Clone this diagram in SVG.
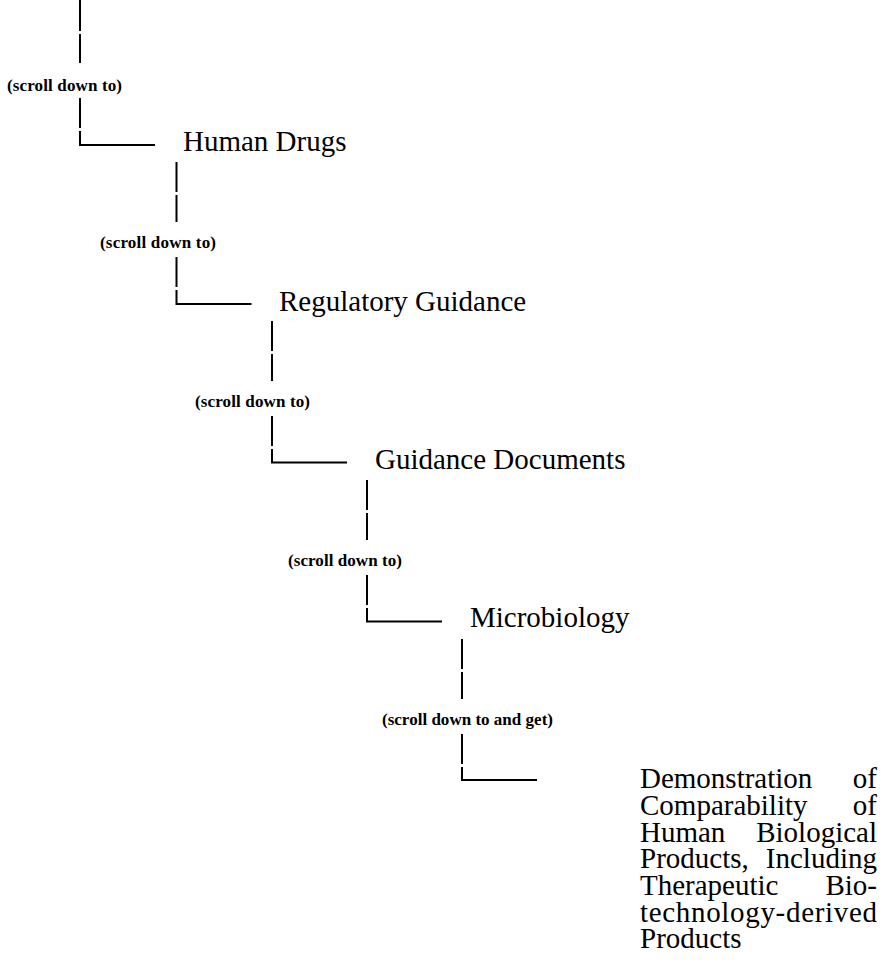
<svg xmlns="http://www.w3.org/2000/svg" width="884" height="980" viewBox="0 0 884 980">
<style>
.c{stroke:#000;stroke-width:2;fill:none}
.t{font-family:"Liberation Serif","Times New Roman",serif;font-size:29px;fill:#000}
.l{font-family:"Liberation Serif","Times New Roman",serif;font-size:17px;font-weight:bold;fill:#000}
</style>
<rect width="884" height="980" fill="#fff"/>
<g id="connectors">
<path class="c" d="M80 0V31M80 34V63M80 98V128M80 131V145H155"/>
<path class="c" d="M176.5 162V192M176.5 195V222M176.5 257V287M176.5 290V304H251.5"/>
<path class="c" d="M272 321V351M272 354V381M272 416V446M272 449V462.5H347"/>
<path class="c" d="M367 480V510M367 513V540M367 575V605M367 608V621.5H442"/>
<path class="c" d="M462 639V669M462 672V699M462 734V764M462 767V780H537"/>
</g>
<g id="label0"><text class="l" x="7" y="91" textLength="115" lengthAdjust="spacing">(scroll down to)</text></g>
<g id="node-human-drugs"><text class="t" x="183" y="151">Human Drugs</text></g>
<g id="label1"><text class="l" x="100" y="248" textLength="116" lengthAdjust="spacing">(scroll down to)</text></g>
<g id="node-regulatory-guidance"><text class="t" x="279" y="311">Regulatory Guidance</text></g>
<g id="label2"><text class="l" x="195" y="407" textLength="115" lengthAdjust="spacing">(scroll down to)</text></g>
<g id="node-guidance-documents"><text class="t" x="375" y="469">Guidance Documents</text></g>
<g id="label3"><text class="l" x="288" y="566" textLength="114" lengthAdjust="spacing">(scroll down to)</text></g>
<g id="node-microbiology"><text class="t" x="470" y="627">Microbiology</text></g>
<g id="label4"><text class="l" x="382" y="725" textLength="171" lengthAdjust="spacing">(scroll down to and get)</text></g>
<g id="node-demonstration">
<text class="t"><tspan x="640" y="788">Demonstration</tspan><tspan x="877" y="788" text-anchor="end">of</tspan><tspan x="640" y="815">Comparability</tspan><tspan x="877" y="815" text-anchor="end">of</tspan><tspan x="640" y="842">Human</tspan><tspan x="877" y="842" text-anchor="end">Biological</tspan><tspan x="640" y="868">Products,</tspan><tspan x="877" y="868" text-anchor="end">Including</tspan><tspan x="640" y="895">Therapeutic</tspan><tspan x="877" y="895" text-anchor="end">Bio-</tspan><tspan x="640" y="922" textLength="237" lengthAdjust="spacing">technology-derived</tspan><tspan x="640" y="948">Products</tspan></text>
</g>
</svg>
